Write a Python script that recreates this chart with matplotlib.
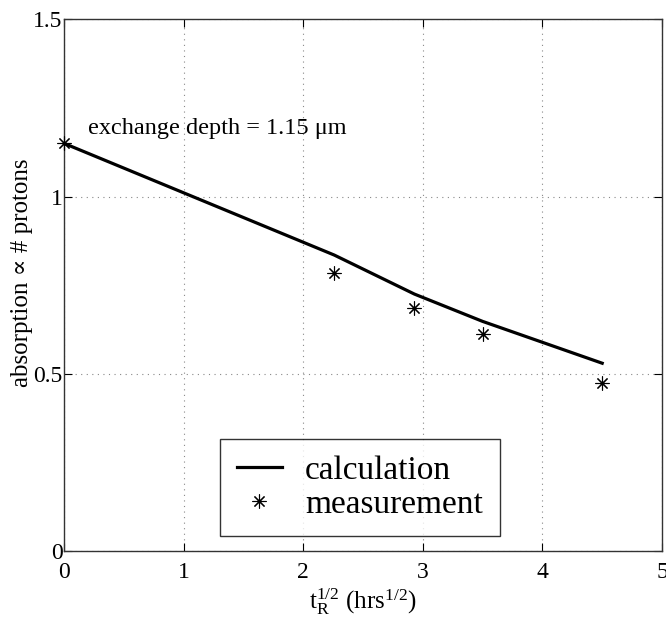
import matplotlib
matplotlib.use("Agg")
import matplotlib.pyplot as plt

plt.rcParams['font.family'] = ['Liberation Serif', 'DejaVu Serif']
plt.rcParams['mathtext.fontset'] = 'custom'
plt.rcParams['mathtext.rm'] = 'Liberation Serif'
plt.rcParams['mathtext.it'] = 'Liberation Serif:italic'

# data
calc_x = [0.0, 2.26, 2.93, 3.50, 4.50]
calc_y = [1.15, 0.835, 0.725, 0.648, 0.530]
meas_x = [0.0, 2.26, 2.93, 3.50, 4.50]
meas_y = [1.15, 0.784, 0.686, 0.612, 0.474]
xticks = [0, 1, 2, 3, 4, 5]
yticks = [0, 0.5, 1, 1.5]
ytick_labels = ['0', '0.5', '1', '1.5']

fig = plt.figure(figsize=(6.66, 6.2), dpi=100)
ax = fig.add_axes([0.096, 0.111, 0.898, 0.858])

ax.plot(calc_x, calc_y, color='black', lw=2.3, label='calculation', zorder=3)
ax.plot(meas_x, meas_y, linestyle='none', marker=(8, 2, 0), markersize=10,
        markeredgewidth=0.8, color='black', label='measurement', zorder=4,
        clip_on=False)

ax.set_xlim(0, 5)
ax.set_ylim(0, 1.5)
ax.set_xticks(xticks)
ax.set_yticks(yticks)
ax.set_yticklabels(ytick_labels)
ax.tick_params(direction='in', length=6, width=0.8, labelsize=17,
               top=True, right=True)
ax.tick_params(axis='x', pad=8)
ax.tick_params(axis='y', pad=1)
ax.grid(True, linestyle=(0, (1, 4)), color='#888888', linewidth=0.8)
for s in ax.spines.values():
    s.set_linewidth(1.0)
    s.set_color('#333333')

ax.set_xlabel(r'$\mathrm{t_R^{1/2}}$ (hrs$^{1/2}$)', fontsize=18)
ax.xaxis.set_label_coords(0.499, -0.066)
ax.set_ylabel('absorption ∝ # protons', fontsize=18,
              family=['Liberation Serif', 'DejaVu Serif'])
ax.yaxis.set_label_coords(-0.052, 0.524)

ax.text(0.2, 1.175, 'exchange depth = 1.15 μm', fontsize=17.5, va='baseline')

leg = ax.legend(loc='lower center', bbox_to_anchor=(0.495, 0.028), fontsize=24,
                frameon=True, fancybox=False, edgecolor='black',
                handlelength=1.35, borderpad=0.5, labelspacing=0.1,
                handletextpad=0.7, borderaxespad=0.0)
leg.get_frame().set_linewidth(1.0)

fig.savefig('out.png', dpi=100)
